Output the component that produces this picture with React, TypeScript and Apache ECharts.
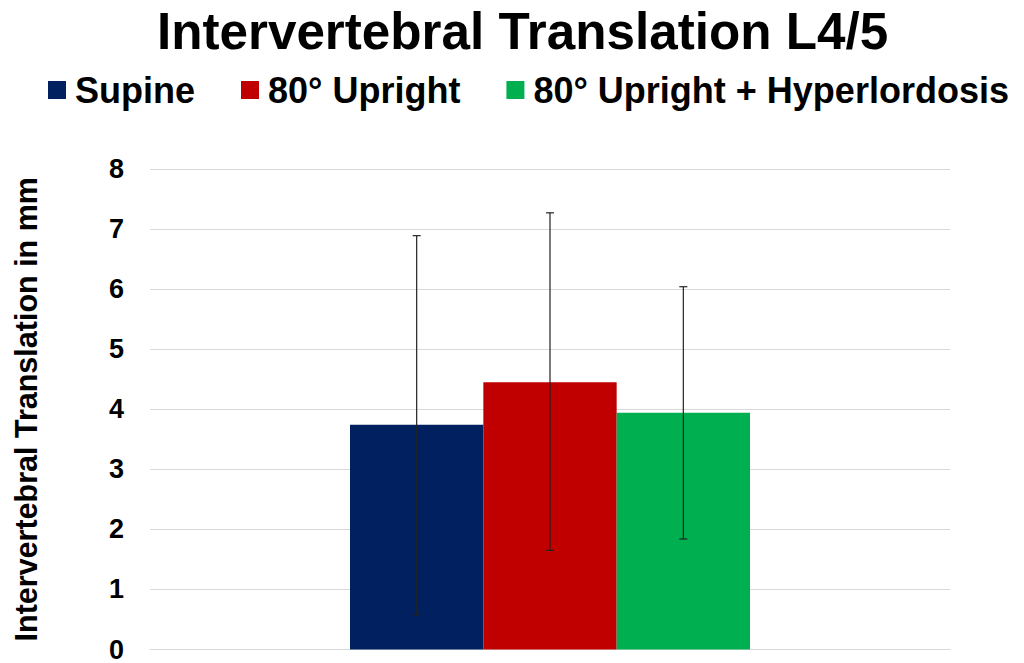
import React, { useEffect, useRef } from "react";
import * as echarts from "echarts";

const categories = ["L4/5"];
const seriesNames = ["Supine", "80° Upright", "80° Upright + Hyperlordosis"];
const seriesColors = ["#002060", "#C00000", "#00B050"];
const means = [3.74, 4.45, 3.94];
const errLow = [0.58, 1.65, 1.84];
const errHigh = [6.89, 7.27, 6.04];
const yTicks = [0, 1, 2, 3, 4, 5, 6, 7, 8];

const FONT = "'Liberation Sans', Arial, sans-serif";

export default function App() {
  const ref = useRef<HTMLDivElement>(null);
  useEffect(() => {
    if (!ref.current) return;
    const chart = echarts.init(ref.current, null, { renderer: "svg" });
    const nSeries = seriesNames.length;
    const barSeries = seriesNames.map((name, i) => ({
      name,
      type: "bar",
      data: [means[i]],
      itemStyle: { color: seriesColors[i] },
      barGap: "0%",
      barCategoryGap: "50%",
      z: 2,
    }));
    const errData = seriesNames.map((_, i) => [0, errLow[i], errHigh[i], i]);
    const option: any = {
      animation: false,
      backgroundColor: "#ffffff",
      title: {
        text: "Intervertebral Translation L4/5",
        left: 152,
        top: 1,
        textStyle: { fontFamily: FONT, fontWeight: "bold", fontSize: 51.2, color: "#000" },
      },
      legend: {
        left: 48,
        top: 72,
        width: 1000,
        padding: 0,
        data: seriesNames,
        icon: "rect",
        itemWidth: 18,
        itemHeight: 18,
        itemGap: 46,
        textStyle: { fontFamily: FONT, fontWeight: "bold", fontSize: 36, color: "#000", padding: [0, 0, 0, 4] },
      },
      grid: { left: 150, right: 74, top: 169, bottom: 11, containLabel: false },
      xAxis: {
        type: "category",
        data: categories,
        axisLine: { show: true, lineStyle: { color: "#d9d9d9" } },
        axisTick: { show: false },
        axisLabel: { show: false },
      },
      yAxis: {
        type: "value",
        min: 0,
        max: 8,
        interval: 1,
        name: "Intervertebral Translation in mm",
        nameLocation: "middle",
        nameGap: 109,
        nameTextStyle: { fontFamily: FONT, fontWeight: "bold", fontSize: 30.5, color: "#000" },
        axisLine: { show: false },
        axisTick: { show: false },
        axisLabel: {
          fontFamily: FONT,
          fontWeight: "bold",
          fontSize: 27,
          color: "#000",
          margin: 26,
          formatter: (v: number) => (yTicks.includes(v) ? String(v) : ""),
        },
        splitLine: { lineStyle: { color: "#d9d9d9", width: 1 } },
      },
      series: [
        ...barSeries,
        {
          type: "custom",
          name: "error",
          data: errData,
          encode: { x: 0, y: [1, 2] },
          z: 5,
          silent: true,
          renderItem: (params: any, api: any) => {
            const cat = api.value(0);
            const lo = api.value(1);
            const hi = api.value(2);
            const idx = api.value(3);
            const band = api.size([1, 0])[0];
            const barW = (band * 0.5) / nSeries;
            const center = api.coord([cat, 0])[0];
            const x = center + (idx - (nSeries - 1) / 2) * barW;
            const yLo = api.coord([cat, lo])[1];
            const yHi = api.coord([cat, hi])[1];
            const cap = 4;
            const style = { stroke: "#222", lineWidth: 1.2 };
            return {
              type: "group",
              children: [
                { type: "line", shape: { x1: x, y1: yLo, x2: x, y2: yHi }, style },
                { type: "line", shape: { x1: x - cap, y1: yHi, x2: x + cap, y2: yHi }, style },
                { type: "line", shape: { x1: x - cap, y1: yLo, x2: x + cap, y2: yLo }, style },
              ],
            };
          },
        },
      ],
    };
    chart.setOption(option);
    return () => chart.dispose();
  }, []);
  return <div ref={ref} style={{ width: 1024, height: 663, position: "absolute", left: 0, top: 0 }} />;
}
